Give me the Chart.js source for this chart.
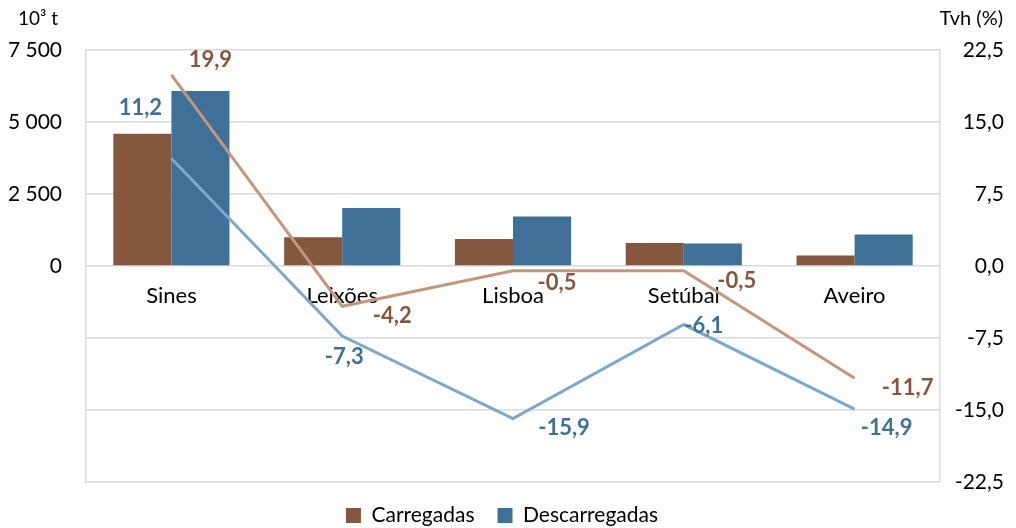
<!DOCTYPE html>
<html lang="pt">
<head>
<meta charset="utf-8">
<title>Movimento de mercadorias nos portos</title>
<script src="https://cdn.jsdelivr.net/npm/chart.js@4"></script>
<style>
  body { margin: 0; background: #fff; }
  #wrap { width: 1016px; height: 528px; }
</style>
</head>
<body>
<div id="wrap"><canvas id="chart"></canvas></div>
<script>
// dados (10^3 t e taxa de variação homóloga %)
const PORTOS = ['Sines', 'Leixões', 'Lisboa', 'Setúbal', 'Aveiro'];
const CARREGADAS = [4590, 1000, 940, 800, 365];
const DESCARREGADAS = [6080, 2010, 1720, 785, 1095];
const TVH_CARREGADAS = [19.9, -4.2, -0.5, -0.5, -11.7];
const TVH_DESCARREGADAS = [11.2, -7.3, -15.9, -6.1, -14.9];

// cores
const COR_C = '#86573f', COR_D = '#3f7198';
const LINHA_C = '#c4967c', LINHA_D = '#7ca8ce';
const GRELHA = '#d9d9d9';

// deslocamento dos rótulos em relação ao ponto (px)
const DESL_C = [[39, -15], [50, 10], [44, 12], [53, 10], [53, 10]];
const DESL_D = [[-31, -51], [2, 21], [51, 9], [20, 1], [32, 19]];

const milhares = v => String(v).replace(/\B(?=(\d{3})+(?!\d))/g, ' ');
const dec1 = v => v.toFixed(1).replace('.', ',');

// rótulos das linhas + unidades dos eixos
const rotulos = {
  id: 'rotulos',
  afterDatasetsDraw(chart) {
    const ctx = chart.ctx;
    ctx.save();
    ctx.font = 'bold 22px Lato';
    ctx.textAlign = 'center';
    ctx.textBaseline = 'middle';
    [[2, DESL_C, COR_C], [3, DESL_D, COR_D]].forEach(([i, desl, cor]) => {
      const ds = chart.data.datasets[i];
      chart.getDatasetMeta(i).data.forEach((p, j) => {
        ctx.fillStyle = cor;
        ctx.fillText(dec1(ds.data[j]), p.x + desl[j][0], p.y + desl[j][1]);
      });
    });
    ctx.font = '19px Lato';
    ctx.fillStyle = '#000';
    ctx.textAlign = 'left';
    ctx.fillText('10³ t', 18, 19);
    ctx.font = '20px Lato';
    ctx.textAlign = 'right';
    ctx.fillText('Tvh (%)', 1003, 19);
    ctx.restore();
  }
};

Chart.defaults.font.family = 'Lato';
Chart.defaults.color = '#000';

new Chart(document.getElementById('chart'), {
  type: 'bar',
  data: {
    labels: PORTOS,
    datasets: [
      { label: 'Carregadas', data: CARREGADAS, backgroundColor: COR_C, yAxisID: 'y', order: 2,
        categoryPercentage: 0.68, barPercentage: 1 },
      { label: 'Descarregadas', data: DESCARREGADAS, backgroundColor: COR_D, yAxisID: 'y', order: 2,
        categoryPercentage: 0.68, barPercentage: 1 },
      { type: 'line', label: 'Tvh Carregadas', data: TVH_CARREGADAS, borderColor: LINHA_C,
        borderWidth: 3, pointRadius: 0, tension: 0, yAxisID: 'y2', order: 1 },
      { type: 'line', label: 'Tvh Descarregadas', data: TVH_DESCARREGADAS, borderColor: LINHA_D,
        borderWidth: 3, pointRadius: 0, tension: 0, yAxisID: 'y2', order: 1 },
    ]
  },
  options: {
    responsive: true,
    maintainAspectRatio: false,
    animation: false,
    layout: { padding: { top: 50, left: 0, right: 12, bottom: -8 } },
    plugins: {
      tooltip: { enabled: false },
      legend: {
        position: 'bottom',
        labels: {
          font: { size: 21 },
          boxWidth: 15, boxHeight: 15, padding: 23,
          filter: item => item.datasetIndex < 2,
        }
      }
    },
    scales: {
      x: {
        position: { y: 0 },
        grid: { display: false },
        border: { display: false },
        ticks: { font: { size: 22 }, padding: 9, maxRotation: 0 },
      },
      y: {
        position: 'left',
        min: -7500, max: 7500,
        afterFit: s => { s.width = 86; },
        ticks: { stepSize: 2500, font: { size: 21 }, padding: 24,
          callback: v => v >= 0 ? milhares(v) : '' },
        grid: { color: GRELHA, lineWidth: 1.5, drawTicks: false },
        border: { color: GRELHA, width: 1.5 },
      },
      y2: {
        position: 'right',
        min: -22.5, max: 22.5,
        afterFit: s => { s.width = 64; },
        ticks: { stepSize: 7.5, font: { size: 21 }, padding: 15, crossAlign: 'far',
          callback: v => dec1(v) },
        grid: { display: false, drawTicks: false },
        border: { color: GRELHA, width: 1.5 },
      }
    }
  },
  plugins: [rotulos]
});
</script>
</body>
</html>
